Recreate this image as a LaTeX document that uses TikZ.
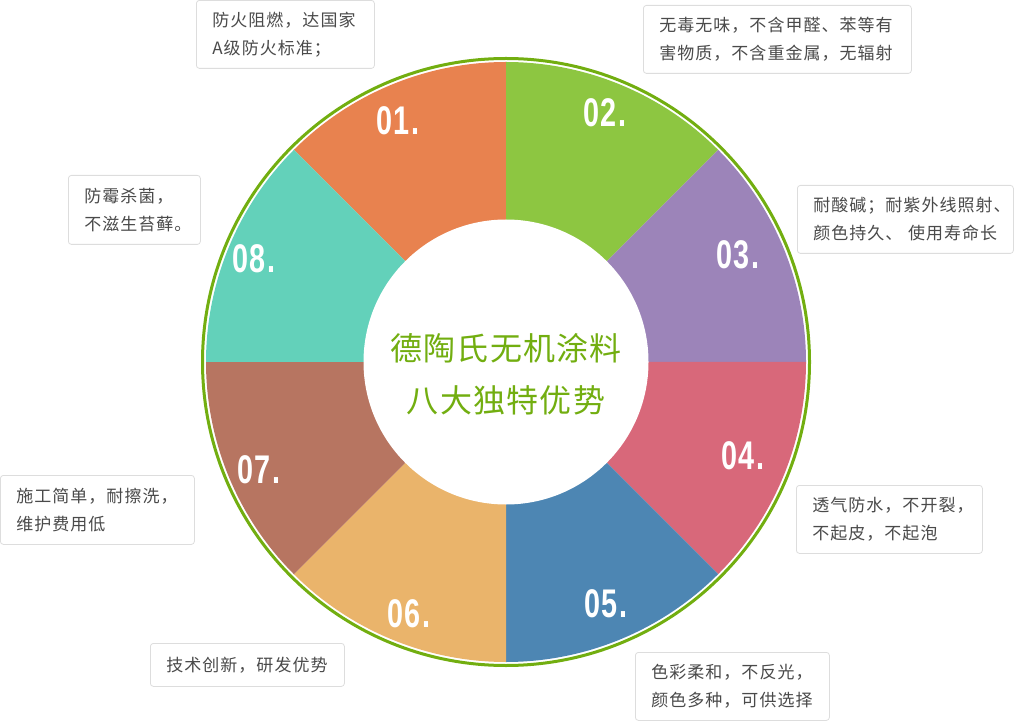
\documentclass[tikz,border=0pt]{standalone}
\usepackage{fontspec}
\newfontfamily\cjk[LetterSpace=6]{Noto Sans CJK SC}
\newfontfamily\cjktitle[LetterSpace=4]{Noto Sans CJK SC}
\newfontfamily\numfont[FakeStretch=0.72, LetterSpace=3]{Liberation Sans}
\usetikzlibrary{positioning}
\definecolor{corange}{HTML}{E8824F}
\definecolor{cgreen}{HTML}{8DC641}
\definecolor{cpurple}{HTML}{9C84B9}
\definecolor{cred}{HTML}{D8687A}
\definecolor{cblue}{HTML}{4D86B3}
\definecolor{csand}{HTML}{EAB46B}
\definecolor{cbrown}{HTML}{B77561}
\definecolor{cteal}{HTML}{63D1BA}
\definecolor{cring}{HTML}{72AE10}
\definecolor{ctext}{HTML}{4A4A4A}
\definecolor{cline}{HTML}{DDDDDD}
\tikzset{
  every picture/.style={x=1pt, y=1pt},
  box/.style={draw=cline, fill=white, rounded corners=3pt, line width=0.8pt, anchor=north west,
    inner xsep=16pt, inner ysep=0pt, align=left, text=ctext, font=\cjk\fontsize{17}{28}\selectfont},
  num/.style={text=white, inner sep=0pt, font=\numfont\bfseries\fontsize{40}{40}\selectfont},
  ring/.style={draw=cring, line width=3pt},
  title/.style={text=cring, align=center, font=\cjktitle\fontsize{32}{52}\selectfont},
}

\begin{document}
\begin{tikzpicture}
  \useasboundingbox (0,0) rectangle (1014,721);
  \coordinate (C) at (506,359);
  \foreach \a/\c in {90/corange, 45/cgreen, 0/cpurple, -45/cred, -90/cblue, -135/csand, 180/cbrown, 135/cteal}
    \fill[\c] (C) -- ++(\a:300) arc[start angle=\a, delta angle=45, radius=300] -- cycle;
  \draw[ring] (C) circle[radius=303.5];
  \fill[white] (C) circle[radius=142.5];
  \node[title] (title) at ([yshift=-12pt]C) {德陶氏无机涂料\\八大独特优势};
  \foreach \X/\Y/\t [count=\k] in {398/600/01., 605/608/02., 738/466/03., 743/265/04.,
      606/117/05., 409/107/06., 259/251/07., 254/462/08.}
    \node[num] (n\k) at (\X,\Y) {\t};
  \foreach \X/\Y/\w/\h/\tw/\t [count=\k] in {
      196/721/178/68/146/{防火阻燃，达国家\\A级防火标准；},
      643/716/268/68/236/{无毒无味，不含甲醛、苯等有\\害物质，不含重金属，无辐射},
      797/536/216/68/184/{耐酸碱；耐紫外线照射、\\颜色持久、 使用寿命长},
      68/546/132/69/100/{防霉杀菌，\\不滋生苔藓。},
      0/246/194/69/162/{施工简单，耐擦洗，\\维护费用低},
      796/236/186/68/154/{透气防水，不开裂，\\不起皮，不起泡},
      150/78/194/43/162/{技术创新，研发优势},
      635/69/194/68/162/{色彩柔和，不反光，\\颜色多种，可供选择}} {
    \node[box, minimum width=\w pt, minimum height=\h pt, text width=\tw pt] (b\k) at (\X,\Y) {\t};
  }
\end{tikzpicture}
\end{document}
